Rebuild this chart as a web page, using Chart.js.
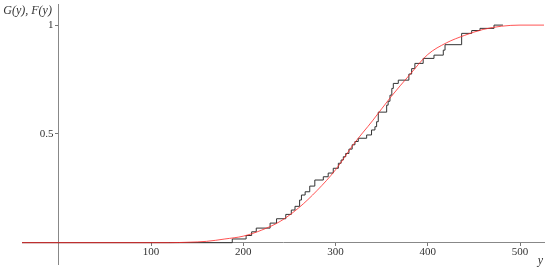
<!DOCTYPE html>
<html>
<head>
<meta charset="utf-8">
<script src="https://cdn.jsdelivr.net/npm/chart.js@4.4.1/dist/chart.umd.min.js"></script>
<style>
  body { margin: 0; background: #fff; }
  canvas { display: block; }
</style>
</head>
<body>
<canvas id="cdfChart" width="550" height="271"></canvas>
<script>
// empirical CDF G(y): jump positions and value after each jump
const ecdfY = [-40, 188, 203, 209, 214, 229, 236, 246, 252, 256, 261, 263, 267, 272, 277.5, 286.7, 292, 297.5, 303, 306,
  308.4, 311, 314.5, 318, 321, 324.6, 333.7, 339, 342.7, 344.5, 346.3, 355.4, 357, 359, 361, 362.6, 368,
  379.5, 382.5, 386, 395, 406.7, 416.8, 418.7, 436.7, 447.6, 456.6, 471.8, 481.5];
const ecdfG = [0, 0.017, 0.033, 0.05, 0.067, 0.09, 0.11, 0.13, 0.15, 0.167, 0.196, 0.219, 0.234, 0.26, 0.288, 0.303, 0.32, 0.342, 0.365, 0.38,
  0.395, 0.41, 0.43, 0.45, 0.465, 0.48, 0.495, 0.518, 0.533, 0.556, 0.6, 0.632, 0.65, 0.678, 0.709, 0.732, 0.747,
  0.775, 0.8, 0.824, 0.847, 0.862, 0.885, 0.91, 0.962, 0.975, 0.985, 1, 1];

// fitted CDF F(y)
const cdfY = [-40, 120, 140, 160, 180, 200, 220, 240, 260, 280, 300, 320, 340, 360, 380, 400, 420, 440, 460, 480, 500, 526];
const cdfF = [0, 0, 0.002, 0.006, 0.017, 0.03, 0.058, 0.098, 0.16, 0.24, 0.335, 0.455, 0.56, 0.67, 0.77, 0.865, 0.918, 0.953, 0.98, 0.995, 1, 1];

const xTicks = [100, 200, 300, 400, 500];
const yTicks = [0.5, 1];

const serif = '"Liberation Serif", "DejaVu Serif", serif';

// axis names drawn next to the crossing axes
const axisNames = {
  id: "axisNames",
  afterDraw(chart) {
    const ctx = chart.ctx;
    const xs = chart.scales.x;
    const ys = chart.scales.y;
    ctx.save();
    ctx.fillStyle = "#333";
    ctx.font = "italic 12px " + serif;
    ctx.textAlign = "right";
    ctx.textBaseline = "middle";
    ctx.fillText("G(y), F(y)", xs.getPixelForValue(0) - 7, chart.chartArea.top + 7);
    ctx.fillText("y", chart.chartArea.right - 1, ys.getPixelForValue(0) + 18);
    ctx.restore();
  }
};

// no extra room for tick labels, the axes sit inside the plot
const noPadding = (scale) => {
  scale.paddingTop = 0;
  scale.paddingBottom = 0;
  scale.paddingLeft = 0;
  scale.paddingRight = 0;
};

const ctx = document.getElementById("cdfChart").getContext("2d");
new Chart(ctx, {
  type: "line",
  data: {
    datasets: [
      {
        label: "F(y)",
        data: cdfY.map((v, i) => ({ x: v, y: cdfF[i] })),
        borderColor: "rgba(255, 40, 40, 0.8)",
        borderWidth: 1,
        pointRadius: 0,
        cubicInterpolationMode: "monotone",
        order: 0
      },
      {
        label: "G(y)",
        data: ecdfY.map((v, i) => ({ x: v, y: ecdfG[i] })),
        borderColor: "#333",
        borderWidth: 1,
        pointRadius: 0,
        stepped: true,
        order: 1
      }
    ]
  },
  options: {
    responsive: false,
    animation: false,
    devicePixelRatio: 1,
    layout: { padding: { left: 22, right: 6, top: 4, bottom: 7 } },
    plugins: { legend: { display: false }, tooltip: { enabled: false } },
    scales: {
      x: {
        type: "linear",
        min: -40,
        max: 526,
        position: { y: 0 },
        afterBuildTicks: (scale) => { scale.ticks = xTicks.map(v => ({ value: v })); },
        afterFit: noPadding,
        grid: { drawOnChartArea: false, drawTicks: true, tickLength: 3, color: "#777" },
        border: { color: "#888", width: 1 },
        ticks: { padding: 0, color: "#333", font: { family: serif, size: 11 }, maxRotation: 0 }
      },
      y: {
        type: "linear",
        min: -0.098,
        max: 1.097,
        position: { x: 0 },
        afterBuildTicks: (scale) => { scale.ticks = yTicks.map(v => ({ value: v })); },
        afterFit: noPadding,
        grid: { drawOnChartArea: false, drawTicks: true, tickLength: 3, color: "#777" },
        border: { color: "#888", width: 1 },
        // centred axes ignore ticks.padding, an en space keeps the label off the axis
        ticks: { color: "#333", font: { family: serif, size: 11 }, callback: (v) => String(v) + "\u2002" }
      }
    }
  },
  plugins: [axisNames]
});
</script>
</body>
</html>
